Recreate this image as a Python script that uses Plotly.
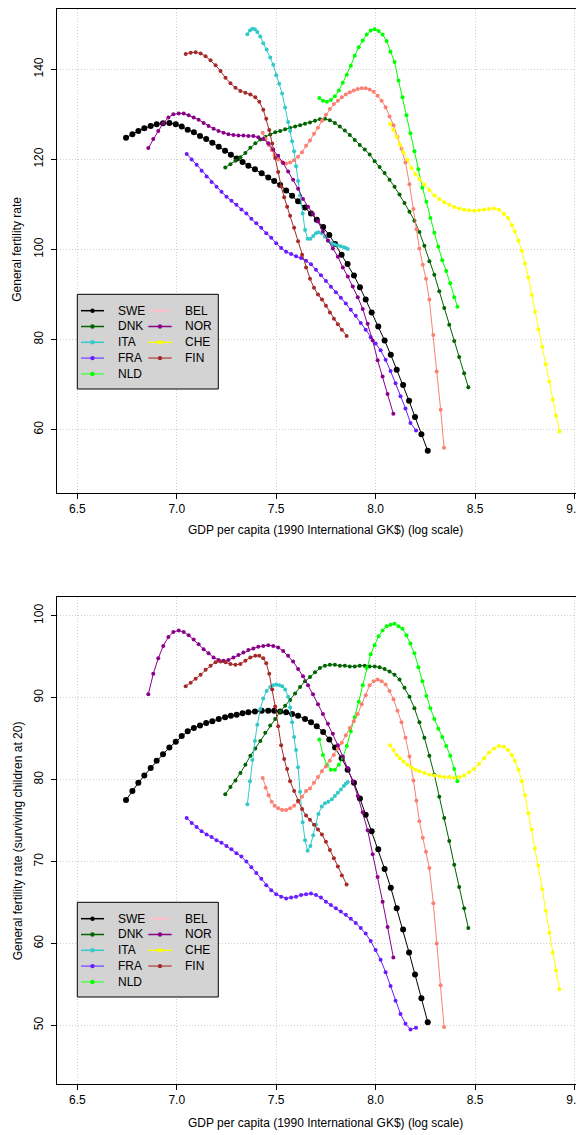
import plotly.graph_objects as go

# ---------------- data (log GDP per capita, GFR, surviving-children GFR) ----------------
countries = ["SWE", "DNK", "ITA", "FRA", "NLD", "BEL", "NOR", "CHE", "FIN"]

swe_x = [6.745, 6.777, 6.807, 6.837, 6.869, 6.899, 6.931, 6.963, 6.995, 7.025, 7.055, 7.086, 7.117, 7.148, 7.179,
         7.211, 7.243, 7.272, 7.301, 7.331, 7.36, 7.393, 7.427, 7.46, 7.49, 7.52, 7.55, 7.58, 7.61, 7.645, 7.675,
         7.704, 7.736, 7.767, 7.796, 7.829, 7.859, 7.891, 7.921, 7.95, 7.98, 8.013, 8.045, 8.076, 8.106, 8.138,
         8.168, 8.198, 8.23, 8.262]
swe_gfr = [124.8, 125.6, 126.3, 126.9, 127.4, 127.8, 128.0, 128.1, 127.8, 127.3, 126.6, 126.0, 125.2, 124.5, 123.7,
           122.8, 121.9, 121.0, 120.2, 119.4, 118.6, 117.8, 116.9, 116.0, 115.2, 114.3, 113.1, 111.9, 110.7, 109.3,
           108.0, 106.6, 105.0, 103.2, 101.2, 98.8, 96.8, 94.2, 91.6, 88.9, 86.0, 82.9, 79.8, 76.6, 73.3, 69.9,
           66.4, 62.8, 59.0, 55.3]
swe_surv = [77.5, 78.6, 79.6, 80.5, 81.4, 82.3, 83.1, 83.9, 84.6, 85.3, 85.9, 86.3, 86.6, 86.9, 87.1, 87.4, 87.6,
            87.8, 87.9, 88.1, 88.2, 88.3, 88.4, 88.4, 88.4, 88.3, 88.2, 88.0, 87.8, 87.4, 87.0, 86.5, 85.8, 84.9,
            83.9, 82.6, 81.2, 79.6, 77.7, 75.7, 73.7, 71.5, 69.1, 66.8, 64.3, 61.7, 58.9, 56.2, 53.3, 50.4]

dnk_x = [7.244, 7.27, 7.295, 7.32, 7.345, 7.37, 7.395, 7.42, 7.445, 7.47, 7.495, 7.52, 7.545, 7.57, 7.595, 7.62,
         7.645, 7.67, 7.695, 7.72, 7.745, 7.77, 7.795, 7.82, 7.845, 7.87, 7.895, 7.92, 7.945, 7.97, 7.995, 8.02,
         8.045, 8.07, 8.095, 8.12, 8.145, 8.17, 8.195, 8.22, 8.245, 8.27, 8.295, 8.32, 8.345, 8.37, 8.395, 8.42,
         8.445, 8.466]
dnk_gfr = [118.2, 118.9, 119.7, 120.5, 121.4, 122.6, 123.6, 124.4, 125.0, 125.5, 126.0, 126.3, 126.7, 127.0, 127.3,
           127.6, 127.9, 128.2, 128.6, 128.9, 129.0, 128.7, 128.1, 127.3, 126.4, 125.4, 124.3, 123.2, 122.2, 121.1,
           119.6, 118.3, 117.0, 115.5, 113.9, 112.2, 110.3, 108.4, 106.4, 103.9, 100.8, 97.4, 94.4, 90.7, 87.0,
           83.3, 79.7, 76.1, 72.5, 69.4]
dnk_surv = [78.2, 79.1, 79.9, 80.8, 81.8, 82.9, 83.8, 84.7, 85.7, 86.6, 87.4, 88.3, 89.0, 89.7, 90.5, 91.3, 92.0,
            92.5, 93.1, 93.6, 93.9, 94.0, 94.0, 93.9, 93.9, 93.8, 93.8, 93.9, 93.9, 93.8, 93.8, 93.7, 93.5, 93.2,
            92.8, 92.2, 91.2, 90.1, 88.7, 87.0, 85.1, 82.9, 80.6, 77.9, 75.3, 72.5, 69.6, 66.9, 64.3, 61.9]

ita_x = [7.355, 7.368, 7.38, 7.393, 7.405, 7.42, 7.435, 7.452, 7.47, 7.485, 7.50, 7.515, 7.53, 7.545, 7.56, 7.57,
         7.58, 7.59, 7.60, 7.61, 7.62, 7.633, 7.645, 7.658, 7.672, 7.686, 7.70, 7.712, 7.729, 7.745, 7.762, 7.78,
         7.795, 7.81, 7.825, 7.84, 7.85, 7.86]
ita_gfr = [147.8, 148.6, 149.0, 148.9, 148.3, 147.3, 145.8, 144.4, 142.6, 141.0, 138.7, 136.8, 134.6, 131.5, 128.3,
           126.3, 124.0, 121.8, 118.5, 115.2, 112.0, 108.0, 104.3, 102.4, 102.4, 103.0, 103.6, 103.8, 103.6, 102.8,
           101.9, 101.4, 101.1, 100.9, 100.7, 100.5, 100.3, 100.1]
ita_surv = [77.0, 79.8, 82.4, 84.7, 86.7, 88.6, 89.9, 90.8, 91.3, 91.5, 91.6, 91.5, 91.4, 91.0, 90.1, 88.8, 87.0,
            85.2, 83.6, 81.5, 78.5, 74.8, 72.6, 71.3, 71.9, 73.2, 74.5, 75.8, 76.7, 77.1, 77.3, 77.6, 78.0, 78.4,
            78.8, 79.2, 79.5, 79.7]

fra_x = [7.05, 7.075, 7.10, 7.125, 7.15, 7.175, 7.20, 7.225, 7.25, 7.275, 7.30, 7.325, 7.35, 7.375, 7.40, 7.425,
         7.45, 7.475, 7.50, 7.525, 7.55, 7.575, 7.60, 7.625, 7.65, 7.675, 7.70, 7.725, 7.75, 7.775, 7.80, 7.825,
         7.85, 7.875, 7.90, 7.925, 7.95, 7.975, 8.00, 8.025, 8.05, 8.075, 8.10, 8.125, 8.15, 8.175, 8.203]
fra_gfr = [121.2, 120.0, 118.8, 117.5, 116.2, 115.0, 113.9, 112.8, 111.7, 110.8, 109.9, 108.9, 108.0, 106.8, 105.8,
           104.8, 103.6, 102.6, 101.4, 100.3, 99.5, 99.0, 98.5, 98.1, 97.5, 96.7, 95.5, 94.3, 93.0, 91.7, 90.5,
           89.3, 88.0, 86.6, 85.3, 83.7, 82.2, 80.5, 79.1, 77.6, 75.5, 73.0, 70.3, 67.4, 64.7, 61.5, 59.8]
fra_surv = [75.3, 74.7, 74.2, 73.7, 73.3, 73.0, 72.6, 72.3, 71.9, 71.5, 71.0, 70.6, 70.0, 69.3, 68.6, 67.9, 67.1,
            66.5, 66.0, 65.7, 65.5, 65.6, 65.7, 65.9, 66.0, 66.1, 65.9, 65.6, 65.1, 64.7, 64.3, 63.9, 63.5, 63.0,
            62.5, 61.9, 61.2, 60.3, 59.2, 58.0, 56.5, 54.8, 53.0, 51.4, 50.2, 49.5, 49.7]

nld_x = [7.717, 7.735, 7.755, 7.775, 7.795, 7.815, 7.835, 7.855, 7.875, 7.895, 7.915, 7.935, 7.955, 7.975, 7.995,
         8.015, 8.035, 8.055, 8.075, 8.095, 8.115, 8.135, 8.155, 8.175, 8.195, 8.215, 8.235, 8.255, 8.275, 8.295,
         8.315, 8.335, 8.355, 8.375, 8.395, 8.411]
nld_gfr = [133.6, 133.0, 132.8, 133.2, 134.0, 135.3, 137.0, 138.8, 140.8, 143.0, 144.9, 146.4, 147.7, 148.6, 148.9,
           148.5, 147.7, 146.3, 143.9, 141.6, 137.5, 133.8, 129.8, 125.8, 121.8, 117.8, 113.7, 110.6, 107.0, 103.7,
           100.6, 97.6, 95.2, 92.5, 89.4, 87.3]
nld_surv = [84.9, 83.0, 81.8, 81.2, 81.2, 81.8, 82.7, 84.1, 85.9, 87.6, 89.5, 91.5, 93.6, 95.3, 96.4, 97.5, 98.2,
            98.7, 98.9, 99.0, 98.7, 98.4, 97.6, 96.6, 95.4, 93.7, 92.0, 90.2, 88.7, 87.4, 86.2, 85.2, 84.1, 82.9,
            81.3, 79.8]

bel_x = [7.432, 7.447, 7.462, 7.477, 7.492, 7.51, 7.53, 7.55, 7.57, 7.59, 7.61, 7.63, 7.65, 7.67, 7.69, 7.71, 7.73,
         7.75, 7.77, 7.79, 7.81, 7.83, 7.85, 7.87, 7.89, 7.91, 7.93, 7.95, 7.97, 7.99, 8.01, 8.03, 8.05, 8.07, 8.09,
         8.11, 8.13, 8.15, 8.17, 8.19, 8.205, 8.22, 8.237, 8.253, 8.27, 8.29, 8.307, 8.327, 8.344]
bel_gfr = [125.9, 124.5, 123.2, 122.1, 120.9, 120.0, 119.4, 119.1, 119.3, 119.8, 120.6, 121.6, 123.0, 124.2, 125.7,
           127.0, 128.6, 129.9, 131.2, 132.3, 133.0, 133.8, 134.4, 134.9, 135.3, 135.6, 135.8, 135.8, 135.5, 135.0,
           134.1, 133.0, 131.6, 129.5, 127.6, 125.0, 122.4, 119.3, 114.5, 109.0, 104.5, 100.2, 96.6, 93.5, 88.9,
           81.0, 72.9, 64.4, 56.0]
bel_surv = [80.2, 79.0, 78.1, 77.3, 76.8, 76.5, 76.3, 76.3, 76.5, 76.8, 77.3, 77.9, 78.6, 78.9, 79.6, 80.3, 81.0,
            81.6, 82.3, 83.0, 83.8, 84.5, 85.4, 86.3, 87.1, 88.0, 89.2, 90.3, 91.5, 92.0, 92.2, 92.0, 91.6, 90.8,
            89.8, 88.4, 87.0, 85.1, 82.8, 79.9, 77.4, 74.9, 72.9, 71.2, 69.2, 64.9, 60.0, 54.9, 49.8]

nor_x = [6.857, 6.882, 6.907, 6.932, 6.958, 6.983, 7.01, 7.035, 7.06, 7.085, 7.11, 7.135, 7.16, 7.185, 7.21, 7.235,
         7.26, 7.285, 7.31, 7.335, 7.36, 7.385, 7.41, 7.435, 7.46, 7.485, 7.51, 7.535, 7.56, 7.585, 7.61, 7.635,
         7.66, 7.685, 7.71, 7.735, 7.76, 7.785, 7.81, 7.835, 7.86, 7.885, 7.91, 7.935, 7.96, 7.985, 8.01, 8.035,
         8.06, 8.089]
nor_gfr = [122.5, 124.5, 126.3, 128.0, 129.3, 130.0, 130.2, 130.2, 129.8, 129.3, 128.8, 128.1, 127.4, 126.8, 126.3,
           125.9, 125.6, 125.4, 125.3, 125.3, 125.2, 125.2, 124.9, 124.5, 123.6, 122.2, 120.8, 119.2, 117.3, 115.5,
           113.5, 111.2, 109.5, 107.9, 106.2, 104.0, 102.0, 100.2, 98.4, 96.0, 94.0, 91.8, 89.4, 86.8, 83.5, 79.8,
           75.4, 71.8, 67.9, 63.5]
nor_surv = [90.4, 92.9, 94.8, 96.3, 97.4, 98.0, 98.2, 98.0, 97.6, 97.1, 96.5, 95.9, 95.4, 94.9, 94.6, 94.5, 94.6,
            94.9, 95.2, 95.5, 95.8, 96.0, 96.2, 96.3, 96.4, 96.3, 96.1, 95.7, 95.1, 94.4, 93.5, 92.6, 91.5, 90.4,
            89.2, 88.0, 86.8, 85.6, 84.2, 82.8, 81.4, 79.8, 78.0, 76.0, 73.8, 70.9, 68.1, 65.1, 62.0, 58.3]

che_x = [8.072, 8.089, 8.106, 8.122, 8.14, 8.16, 8.18, 8.2, 8.22, 8.245, 8.27, 8.295, 8.32, 8.345, 8.37, 8.395,
         8.42, 8.445, 8.47, 8.495, 8.52, 8.545, 8.57, 8.595, 8.62, 8.645, 8.665, 8.685, 8.70, 8.718, 8.735, 8.751,
         8.768, 8.785, 8.801, 8.818, 8.838, 8.855, 8.873, 8.89, 8.907, 8.924]
che_gfr = [127.9, 126.5, 125.0, 123.3, 121.6, 119.9, 118.1, 116.7, 115.6, 114.4, 113.2, 112.0, 111.2, 110.5, 109.9,
           109.4, 109.1, 108.8, 108.7, 108.6, 108.7, 108.9, 109.0, 109.1, 108.8, 107.9, 107.0, 105.4, 104.0, 102.0,
           99.7, 96.9, 93.8, 89.9, 86.2, 82.3, 78.4, 74.5, 70.7, 66.7, 63.1, 59.6]
che_surv = [84.2, 83.6, 83.0, 82.6, 82.2, 81.8, 81.5, 81.2, 81.0, 80.8, 80.6, 80.5, 80.4, 80.3, 80.3, 80.2, 80.3,
            80.5, 80.9, 81.3, 81.9, 82.6, 83.3, 83.8, 84.1, 84.0, 83.6, 83.0, 82.3, 81.2, 79.8, 78.1, 75.9, 73.9,
            71.6, 69.5, 66.6, 64.0, 61.3, 58.9, 56.7, 54.4]

fin_x = [7.045, 7.07, 7.095, 7.12, 7.145, 7.17, 7.195, 7.22, 7.245, 7.27, 7.295, 7.32, 7.345, 7.37, 7.395, 7.415,
         7.435, 7.45, 7.465, 7.48, 7.495, 7.51, 7.525, 7.54, 7.555, 7.57, 7.59, 7.61, 7.63, 7.65, 7.67, 7.69, 7.71,
         7.73, 7.75, 7.77, 7.79, 7.81, 7.83, 7.854]
fin_gfr = [143.4, 143.7, 143.8, 143.5, 142.9, 142.0, 140.9, 139.6, 138.1, 136.9, 135.9, 135.2, 134.8, 134.4, 133.8,
           132.8, 131.0, 129.0, 126.5, 123.5, 120.3, 117.2, 114.0, 111.6, 109.5, 107.5, 104.8, 101.8, 98.8, 96.0,
           93.5, 91.5, 90.0, 88.9, 87.5, 86.0, 84.6, 83.4, 82.2, 80.8]
fin_surv = [91.4, 91.8, 92.3, 92.8, 93.4, 93.9, 94.3, 94.4, 94.3, 94.1, 94.0, 94.1, 94.5, 94.9, 95.1, 95.1, 94.8,
            94.2, 92.9, 91.0, 88.9, 86.5, 84.2, 82.5, 81.3, 79.8, 78.6, 77.4, 76.4, 75.6, 75.1, 74.5, 73.9, 73.3,
            72.4, 71.4, 70.4, 69.4, 68.3, 67.2]

x_ticks = [6.5, 7.0, 7.5, 8.0, 8.5, 9.0]
x_tick_labels = ["6.5", "7.0", "7.5", "8.0", "8.5", "9.0"]
y1_ticks = [60, 80, 100, 120, 140]
y2_ticks = [50, 60, 70, 80, 90, 100]

series = {
    "SWE": (swe_x, swe_gfr, swe_surv),
    "DNK": (dnk_x, dnk_gfr, dnk_surv),
    "ITA": (ita_x, ita_gfr, ita_surv),
    "FRA": (fra_x, fra_gfr, fra_surv),
    "NLD": (nld_x, nld_gfr, nld_surv),
    "BEL": (bel_x, bel_gfr, bel_surv),
    "NOR": (nor_x, nor_gfr, nor_surv),
    "CHE": (che_x, che_gfr, che_surv),
    "FIN": (fin_x, fin_gfr, fin_surv),
}

# ---------------- styles ----------------
line_colors = {"SWE": "#000000", "DNK": "#006400", "ITA": "#33C9C9", "FRA": "#6A1CFF", "NLD": "#00FF00",
               "BEL": "#FA8072", "NOR": "#8B008B", "CHE": "#FFFF00", "FIN": "#A52A2A"}
legend_line_colors = {"SWE": "#000000", "DNK": "#006400", "ITA": "#33C9C9", "FRA": "#8060FF", "NLD": "#4CFF4C",
                      "BEL": "#FFC0CB", "NOR": "#8B008B", "CHE": "#FFFF00", "FIN": "#B85A5A"}
legend_marker_colors = {"SWE": "#000000", "DNK": "#006400", "ITA": "#33C9C9", "FRA": "#6A1CFF", "NLD": "#00FF00",
                        "BEL": "#FFC0CB", "NOR": "#8B008B", "CHE": "#FFFF00", "FIN": "#A52A2A"}
marker_sizes = {c: 4 for c in countries}
marker_sizes["SWE"] = 6

FONT = "Liberation Sans, Arial, Helvetica, sans-serif"
OFF = 8                      # page body margin in the browser
W, H = 584 - OFF, 1135 - OFF
ML, MR, MT, MB = 49, 0, 1, 51
PW, PH = W - ML - MR, H - MT - MB
PLOT_LEFT_PAGE = ML + OFF
PLOT_BOTTOM_PAGE = H - MB + OFF


def pxx(px):
    """page pixel x -> paper fraction"""
    return (px - PLOT_LEFT_PAGE) / PW


def pxy(py):
    """page pixel y -> paper fraction"""
    return (PLOT_BOTTOM_PAGE - py) / PH


fig = go.Figure()
for c in countries:
    xs, g, s = series[c]
    for ys, xa, ya in ((g, "x", "y"), (s, "x2", "y2")):
        fig.add_trace(go.Scatter(
            x=xs, y=ys, xaxis=xa, yaxis=ya, mode="lines+markers", name=c, showlegend=False,
            line=dict(color=line_colors[c], width=1),
            marker=dict(color=line_colors[c], size=marker_sizes[c], line=dict(width=0)),
        ))

axis_common = dict(showline=True, linecolor="black", linewidth=1, ticks="outside", ticklen=5, tickwidth=1,
                   tickcolor="black", showgrid=True, gridcolor="#cfcfcf", griddash="1px,2px", gridwidth=1,
                   zeroline=False, tickfont=dict(family=FONT, size=12, color="black"))

# x scale: 198.9 px per unit, 6.5 at page x 77.3
x_range = [6.5 - (77.3 - PLOT_LEFT_PAGE) / 198.9, 6.5 + (PLOT_LEFT_PAGE + PW - 77.3) / 198.9]
top_plot_top = PLOT_BOTTOM_PAGE - PH  # page y of the figure top edge of plot area
y1_top = 140 + (69.3 - top_plot_top) / 4.505

fig.update_layout(
    width=W, height=H,
    margin=dict(l=ML, r=MR, t=MT, b=MB),
    paper_bgcolor="white", plot_bgcolor="white",
    font=dict(family=FONT, size=12, color="black"),
    xaxis=dict(axis_common, domain=[0, 1], anchor="y", range=x_range, tickvals=x_ticks,
               ticktext=x_tick_labels, mirror=True, ticklabelstandoff=0),
    yaxis=dict(axis_common, domain=[pxy(492.7), 1.0], anchor="x", range=[46.0, y1_top], tickvals=y1_ticks,
               tickangle=-90, ticklabelstandoff=3),
    xaxis2=dict(axis_common, domain=[0, 1], anchor="y2", range=x_range, tickvals=x_ticks,
                ticktext=x_tick_labels, mirror=True, ticklabelstandoff=0),
    yaxis2=dict(axis_common, domain=[0, pxy(597.3)], anchor="x2", range=[42.85, 102.24], tickvals=y2_ticks,
                tickangle=-90, ticklabelstandoff=3),
)

annotations = []
xtitle = "GDP per capita (1990 International GK$) (log scale)"
for py in (530.0, 1123.0):
    annotations.append(dict(text=xtitle, x=pxx(325), y=pxy(py), xref="paper", yref="paper",
                            xanchor="center", yanchor="middle", showarrow=False,
                            font=dict(family=FONT, size=12, color="black")))
annotations.append(dict(text="General fertility rate", x=pxx(17.5), y=pxy(249.3), xref="paper", yref="paper",
                        textangle=-90, xanchor="center", yanchor="middle", showarrow=False,
                        font=dict(family=FONT, size=12, color="black")))
annotations.append(dict(text="General fertility rate (surviving children at 20)", x=pxx(17.5), y=pxy(840.8),
                        xref="paper", yref="paper", textangle=-90, xanchor="center", yanchor="middle",
                        showarrow=False, font=dict(family=FONT, size=12, color="black")))

# ---------------- legends (box + entries) ----------------
shapes = []
legend_cols = [["SWE", "DNK", "ITA", "FRA", "NLD"], ["BEL", "NOR", "CHE", "FIN"]]
col_geom = [(81.0, 104.0, 92.5, 115.7), (148.3, 171.7, 160.0, 183.0)]
for box_top in (294.3, 902.3):
    shapes.append(dict(type="rect", xref="paper", yref="paper", x0=pxx(77.3), x1=pxx(218.3),
                       y0=pxy(box_top + 94.7), y1=pxy(box_top), fillcolor="#d3d3d3",
                       line=dict(color="black", width=1), layer="above"))
    for ci, col in enumerate(legend_cols):
        lx0, lx1, mx, tx = col_geom[ci]
        for ri, c in enumerate(col):
            yy = box_top + 16.4 + 15.8 * ri
            shapes.append(dict(type="line", xref="paper", yref="paper", x0=pxx(lx0), x1=pxx(lx1),
                               y0=pxy(yy), y1=pxy(yy), line=dict(color=legend_line_colors[c], width=1.5),
                               layer="above"))
            r = 2.2
            shapes.append(dict(type="circle", xref="paper", yref="paper", x0=pxx(mx - r), x1=pxx(mx + r),
                               y0=pxy(yy + r), y1=pxy(yy - r), fillcolor=legend_marker_colors[c],
                               line=dict(width=0), layer="above"))
            annotations.append(dict(text=c, x=pxx(tx), y=pxy(yy), xref="paper", yref="paper",
                                    xanchor="left", yanchor="middle", showarrow=False,
                                    font=dict(family=FONT, size=12, color="black")))

fig.update_layout(shapes=shapes, annotations=annotations)
fig.write_html("out.html")
